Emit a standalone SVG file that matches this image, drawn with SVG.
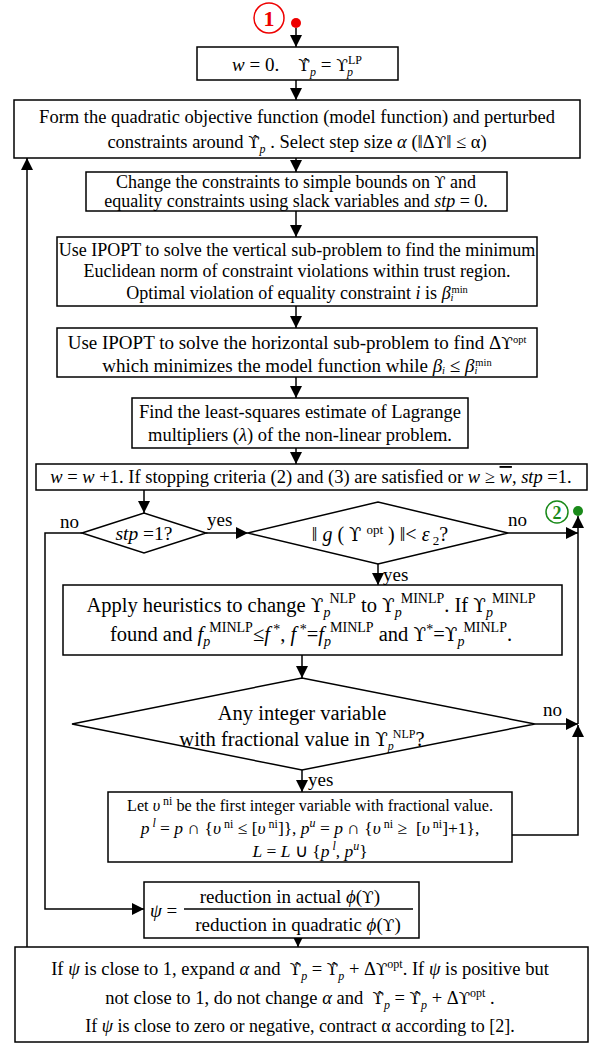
<svg xmlns="http://www.w3.org/2000/svg" width="595" height="1046" viewBox="0 0 595 1046">
<defs>
<marker id="ah" markerWidth="12" markerHeight="12" refX="12" refY="6" orient="auto" markerUnits="userSpaceOnUse"><path d="M0,0 L12,6 L0,12 z" fill="#000"/></marker>
<style>
text{font-family:"Liberation Serif","Times New Roman",serif;fill:#000}
.t{font-size:18.5px}
.i{font-style:italic}
.sm{font-size:12px}
.xs{font-size:10.5px}
.u{font-family:"DejaVu Serif","Liberation Serif",serif;font-size:0.9em}
.box{fill:#fff;stroke:#000;stroke-width:1.5}
.con{fill:none;stroke:#000;stroke-width:1.5;marker-end:url(#ah)}
.ln{fill:none;stroke:#000;stroke-width:1.5}
.lbl{font-size:19px}
</style>
</defs>
<rect width="595" height="1046" fill="#fff"/>

<g id="connectors">
<path class="con" d="M296,28 V47"/>
<path class="con" d="M296,80 V100"/>
<path class="con" d="M296,158 V172"/>
<path class="con" d="M296,211 V237"/>
<path class="con" d="M296,306 V328"/>
<path class="con" d="M296,377 V398"/>
<path class="con" d="M296,448 V464"/>
<path class="con" d="M144,490 V513"/>
<path class="con" d="M206,533 H248"/>
<path class="con" d="M508,533 H578"/>
<path class="con" d="M378,564 V585"/>
<path class="con" d="M302,655 V678"/>
<path class="con" d="M535,724 H578"/>
<path class="con" d="M302,770 V792"/>
<path class="con" d="M512,835 H578 V725"/>
<path class="con" d="M578,724 V516"/>
<path class="con" d="M82,533 H45 V909 H144"/>
<path class="con" d="M298,938 V947"/>
<path class="con" d="M27,947 V158"/>
<text class="lbl" x="60" y="528">no</text>
<text class="lbl" x="207" y="526">yes</text>
<text class="lbl" x="508" y="526">no</text>
<text class="lbl" x="383" y="581">yes</text>
<text class="lbl" x="543" y="716">no</text>
<text class="lbl" x="308" y="786">yes</text>
</g>

<g id="start1">
<circle cx="269" cy="18" r="15" fill="none" stroke="#e00" stroke-width="1.5"/>
<text x="269" y="26" text-anchor="middle" font-size="22" font-weight="bold" style="fill:#e00">1</text>
<circle cx="296" cy="23" r="5" fill="#e00"/>
</g>

<g id="n1">
<rect class="box" x="197" y="47" width="201" height="33"/>
<text x="297" y="71" text-anchor="middle" font-size="19"><tspan class="i">w</tspan> = 0.&#160;&#160;&#160; <tspan class="u">ϒ̂</tspan><tspan class="i sm" dy="5">p</tspan><tspan dy="-5"> = </tspan><tspan class="u">ϒ</tspan><tspan class="sm" dy="-7">LP</tspan><tspan class="i sm" dx="-15" dy="12">p</tspan></text>
</g>

<g id="n2">
<rect class="box" x="14" y="100" width="566" height="58"/>
<text class="t" x="297" y="123" text-anchor="middle">Form the quadratic objective function (model function) and perturbed</text>
<text class="t" x="297" y="148" text-anchor="middle">constraints around <tspan class="u">ϒ̂</tspan><tspan class="i sm" dy="5">p</tspan><tspan dy="-5"> . Select step size </tspan><tspan class="i">α</tspan> (‖Δ<tspan class="u">ϒ</tspan>‖ ≤ α)</text>
</g>

<g id="n3">
<rect class="box" x="86" y="172" width="421" height="39"/>
<text x="296" y="188" text-anchor="middle" font-size="18">Change the constraints to simple bounds on <tspan class="u">ϒ</tspan> and</text>
<text x="296" y="207" text-anchor="middle" font-size="18">equality constraints using slack variables and <tspan class="i">stp</tspan> = 0.</text>
</g>

<g id="n4">
<rect class="box" x="57" y="237" width="480" height="69"/>
<text x="297" y="256" text-anchor="middle" font-size="18">Use IPOPT to solve the vertical sub-problem to find the minimum</text>
<text x="297" y="277" text-anchor="middle" font-size="18">Euclidean norm of constraint violations within trust region.</text>
<text x="297" y="299" text-anchor="middle" font-size="18">Optimal violation of equality constraint <tspan class="i">i</tspan> is <tspan class="i">β</tspan><tspan class="i xs" dy="2">i</tspan><tspan class="xs" dx="-2" dy="-8">min</tspan></text>
</g>

<g id="n5">
<rect class="box" x="57" y="328" width="480" height="49"/>
<text x="297" y="349" text-anchor="middle" font-size="19">Use IPOPT to solve the horizontal sub-problem to find Δ<tspan class="u">ϒ</tspan><tspan class="xs" dy="-6">opt</tspan></text>
<text x="297" y="372" text-anchor="middle" font-size="19">which minimizes the model function while <tspan class="i">β</tspan><tspan class="i xs" dy="2">i</tspan><tspan dy="-2"> ≤ </tspan><tspan class="i">β</tspan><tspan class="i xs" dy="2">i</tspan><tspan class="xs" dx="-2" dy="-8">min</tspan></text>
</g>

<g id="n6">
<rect class="box" x="132" y="398" width="336" height="50"/>
<text class="t" x="300" y="418" text-anchor="middle">Find the least-squares estimate of Lagrange</text>
<text class="t" x="300" y="441" text-anchor="middle">multipliers (<tspan class="i">λ</tspan>) of the non-linear problem.</text>
</g>

<g id="n7">
<rect class="box" x="36" y="464" width="551" height="26"/>
<text class="t" x="311" y="483" text-anchor="middle"><tspan class="i">w</tspan> = <tspan class="i">w</tspan> +1. If stopping criteria (2) and (3) are satisfied or <tspan class="i">w</tspan> ≥ <tspan class="i" style="text-decoration:overline">w</tspan>, <tspan class="i">stp</tspan> =1.</text>
</g>

<g id="d1">
<polygon class="box" points="82,533 144,513 206,533 144,553"/>
<text x="144" y="540" text-anchor="middle" font-size="19.5"><tspan class="i">stp</tspan> =1?</text>
</g>

<g id="d2">
<polygon class="box" points="248,533 378,502 508,533 378,564"/>
<text x="380" y="541" text-anchor="middle" font-size="20">‖ <tspan class="i">g</tspan> ( <tspan class="u">ϒ</tspan> <tspan font-size="13" dy="-7">opt</tspan><tspan dy="7"> ) ‖&lt; </tspan><tspan class="i">ε</tspan><tspan font-size="13" dy="4"> 2</tspan><tspan dy="-4">?</tspan></text>
</g>

<g id="end2">
<circle cx="557" cy="512" r="11" fill="none" stroke="#1a8a1a" stroke-width="1.5"/>
<text x="557" y="519" text-anchor="middle" font-size="18" font-weight="bold" style="fill:#1a8a1a">2</text>
<circle cx="578" cy="511" r="5" fill="#1a8a1a"/>
</g>

<g id="n8">
<rect class="box" x="63" y="585" width="499" height="70"/>
<text x="311" y="612" text-anchor="middle" font-size="20.5">Apply heuristics to change <tspan class="u">ϒ</tspan><tspan class="i" font-size="14" dy="5">p</tspan><tspan font-size="14" dx="-1" dy="-14">NLP</tspan><tspan dy="9"> to </tspan><tspan class="u">ϒ</tspan><tspan class="i" font-size="14" dy="5">p</tspan><tspan font-size="14" dx="-1" dy="-14">MINLP</tspan><tspan dy="9">. If </tspan><tspan class="u">ϒ</tspan><tspan class="i" font-size="14" dy="5">p</tspan><tspan font-size="14" dx="-1" dy="-14">MINLP</tspan></text>
<text x="311" y="641" text-anchor="middle" font-size="20.5">found and <tspan class="i">f</tspan><tspan class="i" font-size="14" dy="5">p</tspan><tspan font-size="14" dx="-1" dy="-14">MINLP</tspan><tspan dy="9">≤</tspan><tspan class="i">f</tspan><tspan font-size="14" dy="-7"> *</tspan><tspan dy="7">, </tspan><tspan class="i">f</tspan><tspan font-size="14" dy="-7"> *</tspan><tspan dy="7">=</tspan><tspan class="i">f</tspan><tspan class="i" font-size="14" dy="5">p</tspan><tspan font-size="14" dx="-1" dy="-14">MINLP</tspan><tspan dy="9"> and </tspan><tspan class="u">ϒ</tspan><tspan font-size="14" dy="-7">*</tspan><tspan dy="7">=</tspan><tspan class="u">ϒ</tspan><tspan class="i" font-size="14" dy="5">p</tspan><tspan font-size="14" dx="-1" dy="-14">MINLP</tspan><tspan dy="9">.</tspan></text>
</g>

<g id="d3">
<polygon class="box" points="72,724 302,678 535,724 302,770"/>
<text x="302" y="720" text-anchor="middle" font-size="20.5">Any integer variable</text>
<text x="302" y="746" text-anchor="middle" font-size="20.5">with fractional value in <tspan class="u">ϒ</tspan><tspan class="i sm" dy="4">p</tspan><tspan class="sm" dx="-1" dy="-12">NLP</tspan><tspan dy="8">?</tspan></text>
</g>

<g id="n9">
<rect class="box" x="108" y="792" width="404" height="70"/>
<text x="310" y="811" text-anchor="middle" font-size="16.2">Let <tspan class="i">υ</tspan><tspan class="sm" dy="-6"> ni</tspan><tspan dy="6"> be the first integer variable with fractional value.</tspan></text>
<text x="310" y="834" text-anchor="middle" font-size="17.5"><tspan class="i">p</tspan><tspan class="i sm" dy="-7"> l</tspan><tspan dy="7"> = </tspan><tspan class="i">p</tspan> ∩ {<tspan class="i">υ</tspan><tspan class="sm" dy="-6"> ni</tspan><tspan dy="6"> ≤ [</tspan><tspan class="i">υ</tspan><tspan class="sm" dy="-6"> ni</tspan><tspan dy="6">]}, </tspan><tspan class="i">p</tspan><tspan class="i sm" dy="-7">u</tspan><tspan dy="7"> = </tspan><tspan class="i">p</tspan> ∩ {<tspan class="i">υ</tspan><tspan class="sm" dy="-6"> ni</tspan><tspan dy="6"> ≥&#160; [</tspan><tspan class="i">υ</tspan><tspan class="sm" dy="-6"> ni</tspan><tspan dy="6">]+1},</tspan></text>
<text x="310" y="857" text-anchor="middle" font-size="17.5"><tspan class="i">L</tspan> = <tspan class="i">L</tspan> ∪ {<tspan class="i">p</tspan><tspan class="i sm" dy="-7"> l</tspan><tspan dy="7">, </tspan><tspan class="i">p</tspan><tspan class="i sm" dy="-7">u</tspan><tspan dy="7">}</tspan></text>
</g>

<g id="n10">
<rect class="box" x="144" y="882" width="275" height="56"/>
<text x="150" y="917" font-size="19"><tspan class="i">ψ</tspan> =</text>
<text x="290" y="903" text-anchor="middle" font-size="19">reduction in actual <tspan class="i">ϕ</tspan>(<tspan class="u">ϒ</tspan>)</text>
<line class="ln" x1="184" y1="909" x2="413" y2="909"/>
<text x="298" y="931" text-anchor="middle" font-size="19">reduction in quadratic <tspan class="i">ϕ</tspan>(<tspan class="u">ϒ</tspan>)</text>
</g>

<g id="n11">
<rect class="box" x="15" y="947" width="573" height="95"/>
<text x="300" y="975" text-anchor="middle" font-size="18.5">If <tspan class="i">ψ</tspan> is close to 1, expand <tspan class="i">α</tspan> and&#160; <tspan class="u">ϒ̂</tspan><tspan class="i sm" dy="5">p</tspan><tspan dy="-5"> = </tspan><tspan class="u">ϒ̂</tspan><tspan class="i sm" dy="5">p</tspan><tspan dy="-5"> + Δ</tspan><tspan class="u">ϒ</tspan><tspan class="sm" dy="-7">opt</tspan><tspan dy="7">. If </tspan><tspan class="i">ψ</tspan> is positive but</text>
<text x="300" y="1004" text-anchor="middle" font-size="18.5">not close to 1, do not change <tspan class="i">α</tspan> and&#160; <tspan class="u">ϒ̂</tspan><tspan class="i sm" dy="5">p</tspan><tspan dy="-5"> = </tspan><tspan class="u">ϒ̂</tspan><tspan class="i sm" dy="5">p</tspan><tspan dy="-5"> + Δ</tspan><tspan class="u">ϒ</tspan><tspan class="sm" dy="-7">opt</tspan><tspan dy="7"> .</tspan></text>
<text x="300" y="1032" text-anchor="middle" font-size="18">If <tspan class="i">ψ</tspan> is close to zero or negative, contract α according to [2].</text>
</g>
</svg>
